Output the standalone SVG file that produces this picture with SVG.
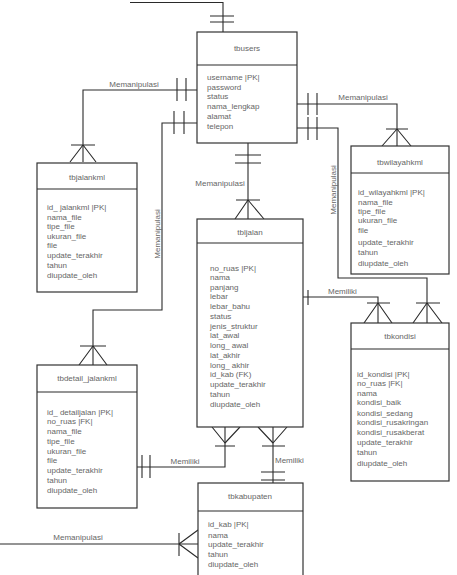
<svg xmlns="http://www.w3.org/2000/svg" width="457" height="575" viewBox="0 0 457 575">
<style>
.box{fill:#fff;stroke:#333;stroke-width:1.2}
.ln{fill:none;stroke:#2a2a2a;stroke-width:1.1}
.t{font-family:"Liberation Sans",Arial,sans-serif;font-size:8px;fill:#666}
.c{text-anchor:middle}
</style>
<rect width="457" height="575" fill="#fff"/>
<g id="connectors" class="ln">
<path d="M130 2.5H223V32"/><path d="M210 16H234M210 22H234"/>
<path d="M197 90H83V162"/><path d="M177 78V101M186 78V101"/>
<path d="M71 145H95M83 145L70 162M83 145L96 162"/>
<path d="M197 123H162V310H93V365"/><path d="M174 111V134M184 111V134"/>
<path d="M80 346H106M93 346L79 365M93 346L107 365"/>
<path d="M248 143V219"/><path d="M235 155H261M235 163H261"/>
<path d="M236 200H260M248 200L235 219M248 200L264 219"/>
<path d="M297 104H397V146"/><path d="M308 93V115M317 93V115"/>
<path d="M386 129H408M397 129L382 146M397 129L411 146"/>
<path d="M297 128H338V278H427V323"/><path d="M308 117V140M317 117V140"/>
<path d="M416 303H440M427 303L413 323M427 303L442 323"/>
<path d="M303 297H378V323"/><path d="M308 290V305"/>
<path d="M367 303H390M378 303L364 323M378 303L392 323"/>
<path d="M225 427V467H137"/><path d="M142 455V478M150 455V478"/>
<path d="M215 446H235M225 443L212 427M225 443L240 427"/>
<path d="M273 427V483"/><path d="M261 472H285M261 480H285"/>
<path d="M262 446H285M273 443L258 427M273 443L287 427"/>
<path d="M0 544H198"/><path d="M179 533V556M179 544L198 530M179 544L198 558"/>
<g class="t" stroke="none">
<text x="134" y="87" class="c">Memanipulasi</text>
<text x="220" y="186" class="c">Memanipulasi</text>
<text x="363" y="100" class="c">Memanipulasi</text>
<text x="78" y="540" class="c">Memanipulasi</text>
<text transform="translate(160,234) rotate(-90)" class="c">Memanipulasi</text>
<text transform="translate(336,190) rotate(-90)" class="c">Memanipulasi</text>
<text x="185" y="464" class="c">Memiliki</text>
<text x="275" y="463">Memiliki</text>
<text x="328" y="294">Memiliki</text>
</g>
</g>
<g id="tbusers">
<rect class="box" x="197" y="32" width="100" height="111"/><path class="ln" d="M197 65H297"/>
<text class="t c" x="247" y="51">tbusers</text>
<g class="t"><text x="207" y="80">username |PK|</text><text x="207" y="90">password</text><text x="207" y="99">status</text><text x="207" y="109">nama_lengkap</text><text x="207" y="119">alamat</text><text x="207" y="129">telepon</text></g>
</g>
<g id="tbjalankml">
<rect class="box" x="37" y="163" width="100" height="129"/><path class="ln" d="M37 189H137"/>
<text class="t c" x="87" y="180">tbjalankml</text>
<g class="t"><text x="47" y="210">id_ jalankml |PK|</text><text x="47" y="220">nama_file</text><text x="47" y="229">tipe_file</text><text x="47" y="239">ukuran_file</text><text x="47" y="248">file</text><text x="47" y="258">update_terakhir</text><text x="47" y="268">tahun</text><text x="47" y="278">diupdate_oleh</text></g>
</g>
<g id="tbwilayahkml">
<rect class="box" x="351" y="146" width="98" height="128"/><path class="ln" d="M351 173H449"/>
<text class="t c" x="400" y="165">tbwilayahkml</text>
<g class="t"><text x="358" y="195">id_wilayahkml |PK|</text><text x="358" y="205">nama_file</text><text x="358" y="214">tipe_file</text><text x="358" y="223">ukuran_file</text><text x="358" y="233">file</text><text x="358" y="245">update_terakhir</text><text x="358" y="255">tahun</text><text x="358" y="266">diupdate_oleh</text></g>
</g>
<g id="tbljalan">
<rect class="box" x="197" y="219" width="106" height="208"/><path class="ln" d="M197 243H303"/>
<text class="t c" x="250" y="235">tbljalan</text>
<g class="t"><text x="210" y="271">no_ruas |PK|</text><text x="210" y="280">nama</text><text x="210" y="290">panjang</text><text x="210" y="299">lebar</text><text x="210" y="309">lebar_bahu</text><text x="210" y="319">status</text><text x="210" y="329">jenis_struktur</text><text x="210" y="338">lat_awal</text><text x="210" y="348">long_ awal</text><text x="210" y="358">lat_akhir</text><text x="210" y="368">long_ akhir</text><text x="210" y="377">id_kab (FK)</text><text x="210" y="387">update_terakhir</text><text x="210" y="397">tahun</text><text x="210" y="407">diupdate_oleh</text></g>
</g>
<g id="tbkondisi">
<rect class="box" x="351" y="323" width="98" height="158"/><path class="ln" d="M351 349H449"/>
<text class="t c" x="400" y="339">tbkondisi</text>
<g class="t"><text x="357" y="377">id_kondisi |PK|</text><text x="357" y="386">no_ruas |FK|</text><text x="357" y="396">nama</text><text x="357" y="405">kondisi_baik</text><text x="357" y="416">kondisi_sedang</text><text x="357" y="425">kondisi_rusakringan</text><text x="357" y="435">kondisi_rusakberat</text><text x="357" y="445">update_terakhir</text><text x="357" y="455">tahun</text><text x="357" y="466">diupdate_oleh</text></g>
</g>
<g id="tbdetail_jalankml">
<rect class="box" x="37" y="365" width="100" height="143"/><path class="ln" d="M37 392H137"/>
<text class="t c" x="87" y="381">tbdetail_jalankml</text>
<g class="t"><text x="47" y="415">id_ detailjalan |PK|</text><text x="47" y="424">no_ruas |FK|</text><text x="47" y="434">nama_file</text><text x="47" y="444">tipe_file</text><text x="47" y="454">ukuran_file</text><text x="47" y="463">file</text><text x="47" y="473">update_terakhir</text><text x="47" y="483">tahun</text><text x="47" y="493">diupdate_oleh</text></g>
</g>
<g id="tbkabupaten">
<rect class="box" x="198" y="483" width="105" height="100"/><path class="ln" d="M198 511H303"/>
<text class="t c" x="250" y="499">tbkabupaten</text>
<g class="t"><text x="208" y="527">id_kab |PK|</text><text x="208" y="538">nama</text><text x="208" y="547">update_terakhir</text><text x="208" y="557">tahun</text><text x="208" y="567">diupdate_oleh</text></g>
</g>
</svg>
